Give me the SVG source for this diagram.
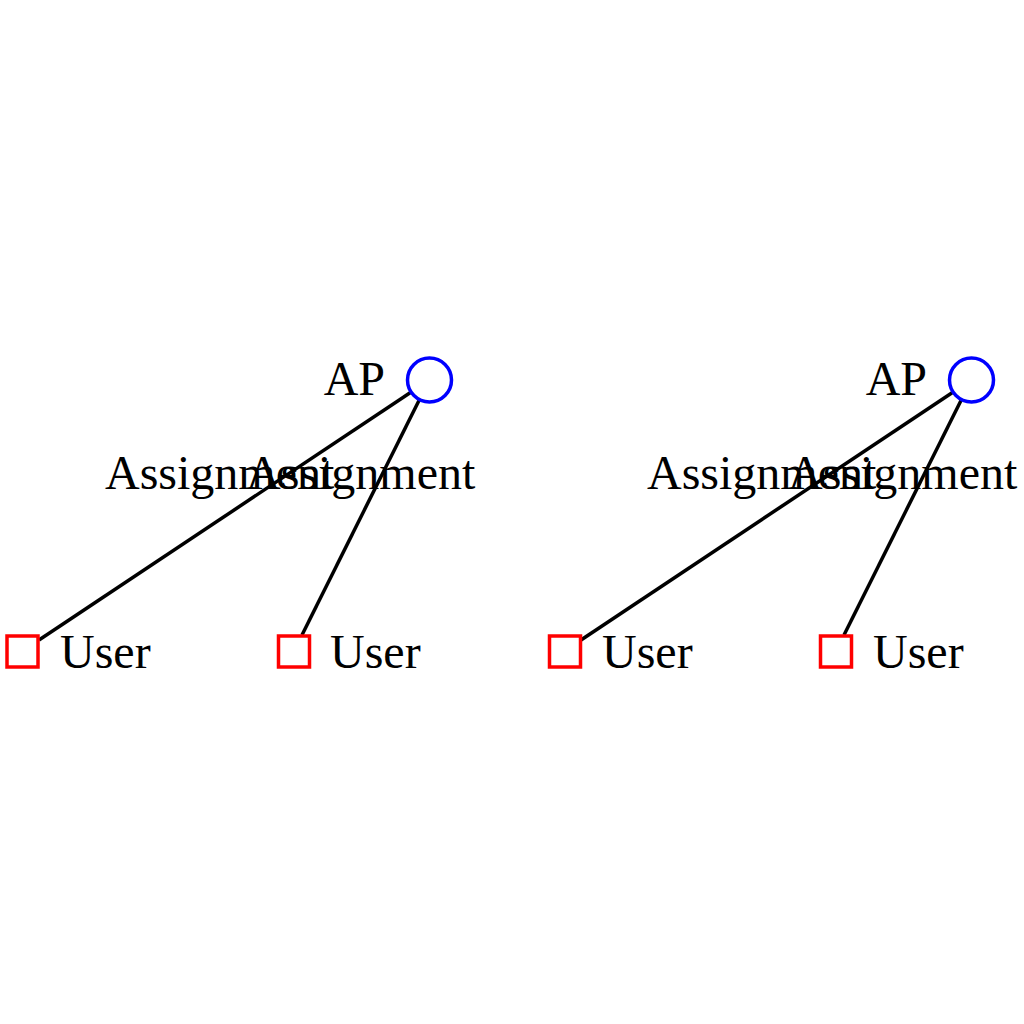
<svg xmlns="http://www.w3.org/2000/svg" width="1024" height="1024" viewBox="0 0 1024 1024">
<style>
.ap{fill:none;stroke:#0000ff;stroke-width:3.5}
.user{fill:none;stroke:#ff0000;stroke-width:3.5}
.edge{stroke:#000;stroke-width:3.5;fill:none}
text{font-family:"Liberation Serif","Times New Roman",serif;font-size:48px;fill:#000}
</style>
<rect width="1024" height="1024" fill="#fff"/>
<g id="connectors">
<line class="edge" x1="39" y1="640" x2="410.5" y2="392.5"/>
<line class="edge" x1="302" y1="635" x2="419.5" y2="399.5"/>
<line class="edge" x1="581" y1="640" x2="952.5" y2="392.5"/>
<line class="edge" x1="844" y1="635" x2="961.5" y2="399.5"/>
<text x="105" y="489">Assignment</text>
<text x="246" y="489">Assignment</text>
<text x="647" y="489">Assignment</text>
<text x="788" y="489">Assignment</text>
</g>
<g id="ap1"><circle class="ap" cx="429.5" cy="380" r="22"/><text x="385" y="395" text-anchor="end">AP</text></g>
<g id="user1"><rect class="user" x="7" y="636" width="31" height="31"/><text x="60" y="668">User</text></g>
<g id="user2"><rect class="user" x="278.5" y="636" width="31" height="31"/><text x="330" y="668">User</text></g>
<g id="ap2"><circle class="ap" cx="971.5" cy="380" r="22"/><text x="927" y="395" text-anchor="end">AP</text></g>
<g id="user3"><rect class="user" x="549.5" y="636" width="31" height="31"/><text x="602" y="668">User</text></g>
<g id="user4"><rect class="user" x="820.5" y="636" width="31" height="31"/><text x="873" y="668">User</text></g>
</svg>
